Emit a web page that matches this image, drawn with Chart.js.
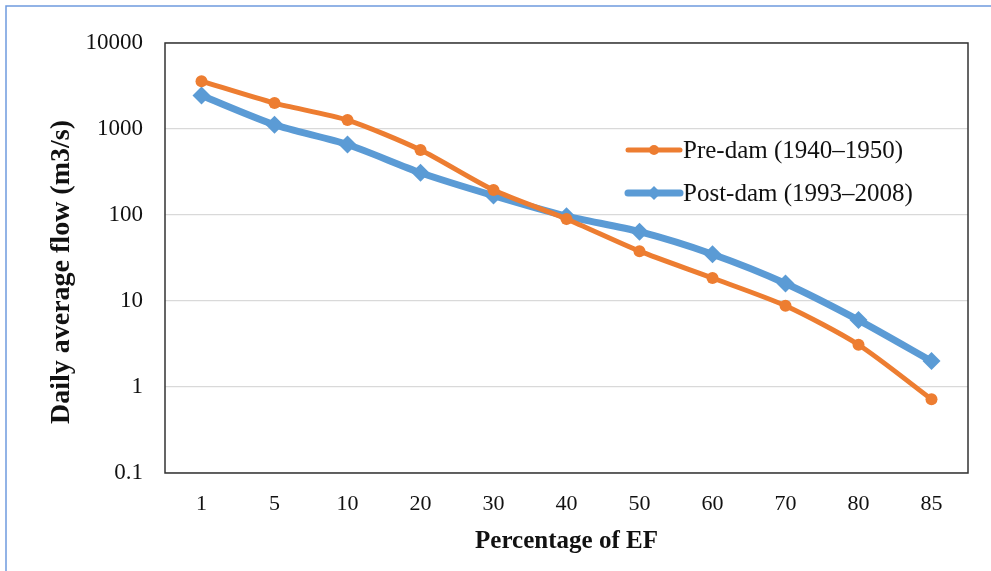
<!DOCTYPE html>
<html>
<head>
<meta charset="utf-8">
<script src="https://cdn.jsdelivr.net/npm/chart.js@4/dist/chart.umd.min.js"></script>
<style>
    html, body { margin: 0; padding: 0; background: #fff; }
    #wrap { width: 991px; height: 571px; position: relative; }
</style>
</head>
<body>
<div id="wrap"><canvas id="flowChart" width="991" height="571"></canvas></div>
<script>
// Percentage of EF categories
const categories = ['1', '5', '10', '20', '30', '40', '50', '60', '70', '80', '85'];

// Daily average flow (m3/s)
const preDam = [3600, 2000, 1270, 570, 195, 90, 38, 18.5, 8.8, 3.1, 0.72];
const postDam = [2450, 1120, 660, 310, 168, 97, 64, 35, 16, 6, 2];

const yTicks = [0.1, 1, 10, 100, 1000, 10000];

const serif = '"Liberation Serif", "Times New Roman", serif';
const orange = '#ED7D31';
const blue = '#5B9BD5';

// white page, blue frame lines on top and left, dark box round the plot
const framePlugin = {
    id: 'frame',
    beforeDraw(chart) {
        const ctx = chart.ctx;
        ctx.save();
        ctx.fillStyle = '#fff';
        ctx.fillRect(0, 0, chart.width, chart.height);
        ctx.strokeStyle = '#6F9BDE';
        ctx.lineWidth = 1.5;
        ctx.beginPath();
        ctx.moveTo(6, chart.height);
        ctx.lineTo(6, 6);
        ctx.lineTo(chart.width, 6);
        ctx.stroke();
        ctx.restore();
    },
    beforeDatasetsDraw(chart) {
        const a = chart.chartArea;
        const ctx = chart.ctx;
        ctx.save();
        ctx.strokeStyle = '#333';
        ctx.lineWidth = 1.5;
        ctx.strokeRect(a.left, a.top, a.right - a.left, a.bottom - a.top);
        ctx.restore();
    }
};

// legend drawn inside the plot, like the original
const insideLegend = {
    id: 'insideLegend',
    afterDraw(chart) {
        const ctx = chart.ctx;
        ctx.save();
        ctx.font = '25px ' + serif;
        ctx.textBaseline = 'middle';
        chart.data.datasets.forEach((ds, i) => {
            const y = 150 + i * 43;
            const x0 = 628, x1 = 680;
            ctx.strokeStyle = ds.borderColor;
            ctx.lineWidth = ds.borderWidth;
            ctx.lineCap = 'round';
            ctx.beginPath();
            ctx.moveTo(x0, y);
            ctx.lineTo(x1, y);
            ctx.stroke();
            ctx.fillStyle = ds.borderColor;
            const cx = (x0 + x1) / 2;
            ctx.beginPath();
            if (ds.pointStyle === 'rectRot') {
                const r = 7;
                ctx.moveTo(cx, y - r);
                ctx.lineTo(cx + r, y);
                ctx.lineTo(cx, y + r);
                ctx.lineTo(cx - r, y);
                ctx.closePath();
            } else {
                ctx.arc(cx, y, 5, 0, Math.PI * 2);
            }
            ctx.fill();
            ctx.fillStyle = '#111';
            ctx.fillText(ds.label, 683, y + 1);
        });
        ctx.restore();
    }
};

new Chart(document.getElementById('flowChart').getContext('2d'), {
    type: 'line',
    data: {
        labels: categories,
        datasets: [
            {
                label: 'Pre-dam (1940\u20131950)',
                data: preDam,
                borderColor: orange,
                backgroundColor: orange,
                borderWidth: 5,
                tension: 0.25,
                pointStyle: 'circle',
                pointRadius: 6,
                pointBackgroundColor: orange,
                pointBorderWidth: 0
            },
            {
                label: 'Post-dam (1993\u20132008)',
                data: postDam,
                borderColor: blue,
                backgroundColor: blue,
                borderWidth: 7,
                tension: 0.25,
                pointStyle: 'rectRot',
                pointRadius: 9,
                pointBackgroundColor: blue,
                pointBorderWidth: 0
            }
        ]
    },
    options: {
        responsive: false,
        animation: false,
        layout: {
            padding: { left: 41, top: 43, right: 23, bottom: 10 }
        },
        plugins: {
            legend: { display: false },
            tooltip: { enabled: false }
        },
        scales: {
            x: {
                offset: true,
                afterFit(scale) { scale.height = 88; },
                grid: { display: false, drawTicks: false },
                border: { display: false },
                ticks: {
                    color: '#111',
                    padding: 18,
                    font: { family: serif, size: 22 }
                },
                title: {
                    display: true,
                    text: 'Percentage of EF',
                    color: '#111',
                    font: { family: serif, size: 25, weight: 'bold' }
                }
            },
            y: {
                type: 'logarithmic',
                min: 0.1,
                max: 10000,
                afterFit(scale) { scale.width = 124; },
                afterBuildTicks(scale) {
                    scale.ticks = yTicks.map(v => ({ value: v }));
                },
                grid: { color: '#D9D9D9', lineWidth: 1.2, drawTicks: false },
                border: { display: false },
                ticks: {
                    color: '#111',
                    padding: 22,
                    font: { family: serif, size: 23 },
                    callback: function(value) {
                        return String(value);
                    }
                },
                title: {
                    display: true,
                    // trailing spaces nudge the title down a little, as in the original
                    text: 'Daily average flow (m3/s)\u00a0\u00a0\u00a0\u00a0',
                    color: '#111',
                    font: { family: serif, size: 28, weight: 'bold' }
                }
            }
        }
    },
    plugins: [framePlugin, insideLegend]
});
</script>
</body>
</html>
